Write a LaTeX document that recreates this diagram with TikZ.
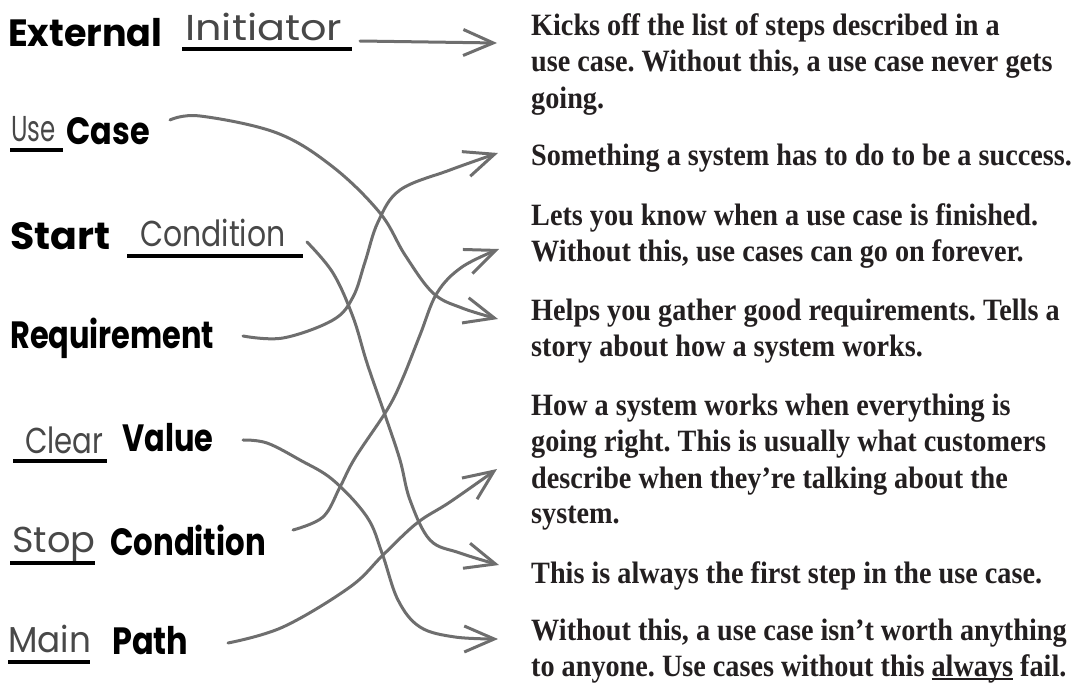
\documentclass[tikz,border=0pt]{standalone}
\usepackage{fontspec}
\setmainfont{Liberation Serif}[FakeStretch=0.91]
\newfontfamily\hand{Poppins}
\usetikzlibrary{arrows.meta}
\definecolor{arrowgray}{RGB}{110,110,110}
\definecolor{pengray}{RGB}{72,72,72}
\definecolor{ink}{RGB}{35,31,32}
\newcommand{\sx}[2]{\scalebox{#1}[1]{#2}}
\newcommand{\ulword}[1]{\setbox0\hbox{#1}\rlap{\rule[-4pt]{\wd0}{1.6pt}}#1}
\begin{document}
\frenchspacing
\begin{tikzpicture}[x=1pt,y=-1pt,
  boldw/.style={anchor=base west, inner sep=0pt, font=\hand\bfseries\fontsize{38}{38}\selectfont, text=black},
  pen/.style={anchor=base west, inner sep=0pt, font=\hand\fontsize{36}{36}\selectfont, text=pengray},
  bar/.style={line width=4pt, black},
  desc/.style={anchor=base west, inner sep=0pt, font=\bfseries\fontsize{31}{36}\selectfont, text=ink},
  conn/.style={draw=arrowgray, line width=3pt, line cap=round, line join=round,
    -{Straight Barb[length=30pt,width=26pt,line width=3pt]}}
]
\useasboundingbox (0,0) rectangle (1073,688);

% ---- left labels
\node[boldw] (ext) at (8,46) {\sx{0.96}{External}};
\node[pen] (ini) at (185,40) {\sx{1.15}{Initiator}};
\draw[bar] (182,49) -- (352,49);

\node[pen] (use) at (11,141) {\sx{0.68}{Use}};
\draw[bar] (10,150) -- (63,150);
\node[boldw] (case) at (66,144) {\sx{0.84}{Case}};

\node[boldw] (start) at (10,249) {\sx{1.04}{Start}};
\node[pen] (cond) at (140,246) {\sx{0.83}{Condition}};
\draw[bar] (127,256) -- (303,256);

\node[boldw] (req) at (10,348) {\sx{0.80}{Requirement}};

\node[pen] (clear) at (25,453) {\sx{0.81}{Clear}};
\draw[bar] (13,461) -- (107,461);
\node[boldw] (value) at (122,451) {\sx{0.80}{Value}};

\node[pen] (stop) at (12,552) {\sx{1.02}{Stop}};
\draw[bar] (10,563) -- (95,563);
\node[boldw] (scond) at (110,555) {\sx{0.81}{Condition}};

\node[pen] (main) at (8,652) {\sx{0.95}{Main}};
\draw[bar] (8,662) -- (90,662);
\node[boldw] (path) at (112,654) {\sx{0.84}{Path}};

% ---- right descriptions
\node[desc] (d1a) at (531,35) {Kicks off the list of steps described in a};
\node[desc] (d1b) at (531,71) {use case. Without this, a use case never gets};
\node[desc] (d1c) at (531,108) {going.};
\node[desc] (d2a) at (531,165) {Something a system has to do to be a success.};
\node[desc] (d3a) at (531,225) {Lets you know when a use case is finished.};
\node[desc] (d3b) at (531,261) {Without this, use cases can go on forever.};
\node[desc] (d4a) at (531,320) {Helps you gather good requirements. Tells a};
\node[desc] (d4b) at (531,356) {story about how a system works.};
\node[desc] (d5a) at (531,415) {How a system works when everything is};
\node[desc] (d5b) at (531,451) {going right. This is usually what customers};
\node[desc] (d5c) at (531,488) {describe when they’re talking about the};
\node[desc] (d5d) at (531,523) {system.};
\node[desc] (d6a) at (531,583) {This is always the first step in the use case.};
\node[desc] (d7a) at (531,640) {Without this, a use case isn’t worth anything};
\node[desc] (d7b) at (531,676) {to anyone. Use cases without this \ulword{always} fail.};

% ---- connector end points
\coordinate (s1) at (360,41);  \coordinate (e1) at (497,43);
\coordinate (s2) at (170,120); \coordinate (e2) at (498,319);
\coordinate (s3) at (307,242); \coordinate (e3) at (499,565);
\coordinate (s4) at (243,336); \coordinate (e4) at (498,153);
\coordinate (s5) at (243,440); \coordinate (e5) at (498,639);
\coordinate (s6) at (293,530); \coordinate (e6) at (499,249);
\coordinate (s7) at (228,643); \coordinate (e7) at (497,469);

\draw[conn] (s1) -- (e1);
\draw[conn] plot[smooth,tension=0.6] coordinates {(s2) (200,116) (277,133) (333,167) (380,213) (405,255) (433,293) (462,308) (e2)};
\draw[conn] plot[smooth,tension=0.6] coordinates {(s3) (333,273) (353,317) (367,363) (385,415) (400,460) (410,500) (430,540) (460,553) (e3)};
\draw[conn] plot[smooth,tension=0.6] coordinates {(s4) (283,338) (333,320) (353,297) (365,262) (378,222) (400,190) (450,170) (e4)};
\draw[conn] plot[smooth,tension=0.6] coordinates {(s5) (267,443) (300,460) (333,480) (367,517) (382,553) (398,600) (420,627) (455,637) (e5)};
\draw[conn] plot[smooth,tension=0.6] coordinates {(s6) (323,517) (340,487) (355,458) (387,410) (402,380) (420,335) (437,293) (462,267) (e6)};
\draw[conn] plot[smooth,tension=0.6] coordinates {(s7) (283,627) (350,587) (383,555) (417,523) (450,502) (e7)};
\end{tikzpicture}
\end{document}
